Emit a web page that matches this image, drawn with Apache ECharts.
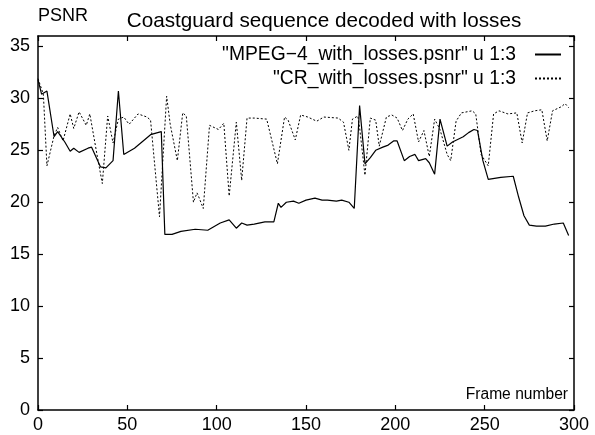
<!DOCTYPE html>
<html>
<head>
<meta charset="utf-8">
<script src="https://cdn.jsdelivr.net/npm/echarts@6/dist/echarts.min.js"></script>
<style>
  html, body { margin: 0; padding: 0; background: #fff; }
  #main { width: 595px; height: 435px; }
</style>
</head>
<body>
<div id="main"></div>
<script>
// MPEG-4 with losses (solid)
var mpegFrames = [0, 2, 5, 9, 11, 15, 18, 20, 23, 28, 30, 35, 38, 42, 45, 48, 54, 63, 69, 71,
    75, 80, 88, 95, 102, 107, 111, 114, 117, 121, 127, 132, 134.5, 136, 139, 143, 146, 150, 155, 159,
    162, 167, 170, 174, 177, 180, 183, 186, 189, 193, 196, 199, 201, 205, 208, 211, 213, 217, 219, 222,
    225, 229, 232, 238, 241, 244, 246, 249, 252, 259, 266, 269, 272, 275, 279, 284, 289, 294, 297];
var mpegPsnr = [31.8, 30.4, 30.7, 26.3, 26.8, 25.8, 24.9, 25.2, 24.8, 25.2, 25.3, 23.4, 23.3, 24.0, 30.7, 24.6, 25.2, 26.5, 26.8, 16.9,
    16.9, 17.2, 17.4, 17.3, 18.0, 18.3, 17.5, 18.0, 17.8, 17.9, 18.1, 18.1, 19.9, 19.5, 20.0, 20.1, 19.9, 20.2, 20.4, 20.2,
    20.2, 20.1, 20.2, 20.0, 19.4, 29.3, 23.7, 24.3, 25.0, 25.3, 25.5, 25.9, 25.9, 24.0, 24.4, 24.6, 24.0, 24.2, 23.8, 22.7,
    28.0, 25.4, 25.8, 26.3, 26.7, 27.0, 26.9, 24.0, 22.2, 22.4, 22.5, 20.5, 18.7, 17.8, 17.7, 17.7, 17.9, 18.0, 16.8];

// CR with losses (dashed)
var crFrames = [0, 3, 5, 9, 11, 14, 18, 20, 23, 27, 29, 33, 36, 39, 42, 45, 48, 51, 56, 61,
    63, 68, 72, 74, 78, 81, 83, 87, 89, 90, 92.5, 96, 101, 104, 107, 111, 114, 117, 121, 128,
    134, 138, 140, 144, 147, 151, 156, 160, 168, 171, 174, 176, 179, 180, 183, 186, 189, 191, 195, 198,
    201, 204, 207, 210, 213, 216, 219, 222, 225, 229, 231, 234, 237, 243, 245, 248, 252, 255, 258, 263,
    268, 271, 274, 278, 282, 285, 288, 293, 295, 297];
var crPsnr = [31.9, 30.4, 23.5, 26.4, 27.2, 25.9, 28.5, 27.1, 28.7, 27.4, 28.5, 24.6, 21.8, 28.3, 25.7, 28.0, 28.2, 27.5, 28.5, 28.2,
    27.9, 18.6, 30.2, 27.5, 24.0, 28.6, 28.3, 20.0, 20.9, 20.5, 19.4, 27.4, 27.0, 27.6, 20.6, 27.7, 22.1, 28.1, 28.1, 28.0,
    23.7, 28.2, 27.9, 26.0, 28.4, 28.2, 27.8, 28.2, 28.1, 27.7, 25.0, 28.0, 28.3, 27.2, 22.6, 28.1, 27.9, 25.4, 28.2, 28.4,
    28.1, 26.9, 28.0, 28.5, 25.8, 26.9, 24.4, 28.0, 27.0, 24.6, 24.0, 27.8, 28.6, 28.8, 28.5, 24.6, 23.5, 28.5, 28.8, 28.5,
    28.6, 25.7, 28.6, 28.8, 28.9, 25.9, 28.8, 29.2, 29.5, 29.1];

function pairs(xs, ys) {
    return xs.map(function (x, i) { return [x, ys[i]]; });
}

var font = 'Liberation Sans, Arial, Helvetica, sans-serif';
var frameLine = { show: true, onZero: false, lineStyle: { color: '#000', width: 1.5 } };
var tickIn = { show: true, inside: true, length: 5, lineStyle: { color: '#000', width: 1.2 } };

var chart = echarts.init(document.getElementById('main'), null, { renderer: 'canvas' });
var option = {
    backgroundColor: '#fff',
    animation: false,
    textStyle: { fontFamily: font, color: '#000' },
    title: {
        text: 'Coastguard sequence decoded with losses',
        left: 319, top: 6, textAlign: 'center',
        textStyle: { fontFamily: font, fontSize: 20.7, fontWeight: 'normal', color: '#000' }
    },
    legend: {
        orient: 'vertical',
        align: 'right',
        right: 28, top: 40,
        itemWidth: 26, itemHeight: 14, itemGap: 5,
        itemStyle: { opacity: 0 },
        textStyle: { fontFamily: font, fontSize: 19.3, color: '#000', padding: [0, 14, 0, 0] },
        data: ['"MPEG\u22124_with_losses.psnr" u 1:3', '"CR_with_losses.psnr" u 1:3']
    },
    grid: { left: 38, right: 21, top: 36, bottom: 25, containLabel: false },
    xAxis: [{
        type: 'value', min: 0, max: 300, interval: 50,
        name: 'Frame number', nameLocation: 'end', nameGap: -6,
        nameTextStyle: { fontFamily: font, fontSize: 15.6, color: '#000', align: 'right', verticalAlign: 'bottom', padding: [0, 0, 7, 0] },
        axisLine: frameLine, axisTick: tickIn,
        axisLabel: { fontFamily: font, fontSize: 18, color: '#000', margin: 6 },
        splitLine: { show: false }
    }, {
        type: 'value', min: 0, max: 300, interval: 50, position: 'top',
        axisLine: frameLine, axisTick: tickIn, axisLabel: { show: false }, splitLine: { show: false }
    }],
    yAxis: [{
        type: 'value', min: 0, max: 36, interval: 5,
        name: 'PSNR', nameLocation: 'end', nameGap: 11,
        nameTextStyle: { fontFamily: font, fontSize: 18, color: '#000', align: 'left', verticalAlign: 'bottom' },
        axisLine: frameLine, axisTick: tickIn,
        axisLabel: { fontFamily: font, fontSize: 18, color: '#000', margin: 8, showMaxLabel: false },
        splitLine: { show: false }
    }, {
        type: 'value', min: 0, max: 36, interval: 5, position: 'right',
        axisLine: frameLine, axisTick: tickIn, axisLabel: { show: false }, splitLine: { show: false }
    }],
    series: [{
        name: '"MPEG\u22124_with_losses.psnr" u 1:3',
        type: 'line', xAxisIndex: 0, yAxisIndex: 0,
        showSymbol: false, symbol: 'none',
        lineStyle: { color: '#000', width: 1.2, type: 'solid' },
        itemStyle: { color: '#000' },
        data: pairs(mpegFrames, mpegPsnr)
    }, {
        name: '"CR_with_losses.psnr" u 1:3',
        type: 'line', xAxisIndex: 0, yAxisIndex: 0,
        showSymbol: false, symbol: 'none',
        lineStyle: { color: '#000', width: 1, type: [2, 2] },
        itemStyle: { color: '#000' },
        data: pairs(crFrames, crPsnr)
    }]
};
chart.setOption(option);
</script>
</body>
</html>
